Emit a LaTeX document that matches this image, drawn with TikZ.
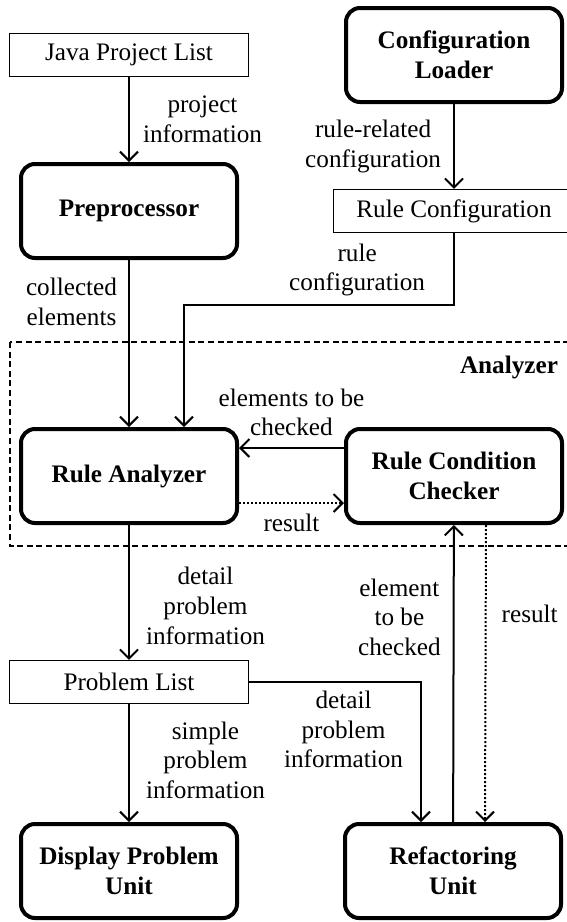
\documentclass[tikz,12pt,border=0pt]{standalone}
\usepackage{fontspec}
\setmainfont{Liberation Serif}
\usetikzlibrary{arrows.meta,positioning}

\begin{document}
\begin{tikzpicture}[>={Straight Barb[length=4.5pt,width=9pt]}, line width=1pt, on grid,
    font=\fontsize{12.6}{14.8}\selectfont,
    unit/.style={draw, line width=2pt, rounded corners=7pt, minimum width=108pt, minimum height=47pt, align=center, font=\fontsize{12.6}{14.8}\selectfont\bfseries},
    store/.style={draw, line width=0.6pt, minimum width=119.4pt, minimum height=21.5pt},
    lbl/.style={align=center, inner sep=1pt},
    result/.style={dash pattern=on 1pt off 1pt}]
    \useasboundingbox (0,0) rectangle (283.5pt,-461pt);

    \node[store] (java) at (64.5pt,-27.5pt) {Java Project List};
    \node[unit] (pre) [below=78pt of java] {Preprocessor};
    \node[unit] (ana) [below=132.5pt of pre] {Rule Analyzer};
    \node[store] (plist) [below=103pt of ana] {Problem List};
    \node[unit] (disp) [below=94.5pt of plist] {Display Problem\\Unit};
    \node[unit] (conf) [right=162.5pt of java] {Configuration\\Loader};
    \node[store, minimum width=120.4pt] (rconf) [below=78pt of conf] {Rule Configuration};
    \node[unit] (chk) [right=162.5pt of ana] {Rule Condition\\Checker};
    \node[unit] (ref) [right=162pt of disp] {Refactoring\\Unit};

    % analyzer zone
    \draw[dash pattern=on 3pt off 1.8pt, line width=0.7pt] ([xshift=-4.5pt,yshift=42.5pt]ana.north west) rectangle ([xshift=8pt,yshift=-10.5pt]chk.south east);
    \node[anchor=east, font=\fontsize{12.6}{14.8}\selectfont\bfseries, inner sep=0pt] (zonename) at ([xshift=-2.5pt,yshift=30pt]chk.north east) {Analyzer};

    \draw[->] (java) -- node[lbl, anchor=west, xshift=5.5pt] {project\\information} (pre);
    \draw[->] (conf) -- node[lbl, anchor=east, xshift=-5pt] {rule-related\\configuration} (rconf);
    \draw[->] (rconf.south) -- ++(0,-36pt) node[lbl, anchor=south east, xshift=-13pt, yshift=3pt] {rule\\configuration} -| ([xshift=27.5pt]ana.north);
    \draw[->] (pre) -- node[lbl, pos=0.25, anchor=east, xshift=-4.5pt] {collected\\elements} (ana);

    \draw[->] ([yshift=14pt]chk.west) -- node[lbl, anchor=south, yshift=4.5pt] {elements to be\\checked} ([yshift=14pt]ana.east);
    \draw[->, result] ([yshift=-13.5pt]ana.east) -- node[lbl, anchor=north, yshift=-4pt] {result} ([yshift=-13.5pt]chk.west);

    \draw[->] (ana) -- node[lbl, pos=0.6, anchor=west, xshift=7pt] {detail\\problem\\information} (plist);
    \draw[->] (plist) -- node[lbl, pos=0.475, anchor=west, xshift=7pt] {simple\\problem\\information} (disp);

    \coordinate (refin) at ([xshift=-16pt]ref.north);
    \draw[->] (plist.east) -- (plist.east -| refin) node[lbl, anchor=north east, xshift=-7.5pt, yshift=-3pt] {detail\\problem\\information} -- (refin);
    \draw[->] (ref) -- node[lbl, pos=0.69, anchor=east, xshift=-5pt] {element\\to be\\checked} (chk);
    \draw[->, result] ([xshift=16pt]chk.south) -- node[lbl, pos=0.3, anchor=west, xshift=6.5pt] {result} ([xshift=16pt]ref.north);
\end{tikzpicture}
\end{document}
